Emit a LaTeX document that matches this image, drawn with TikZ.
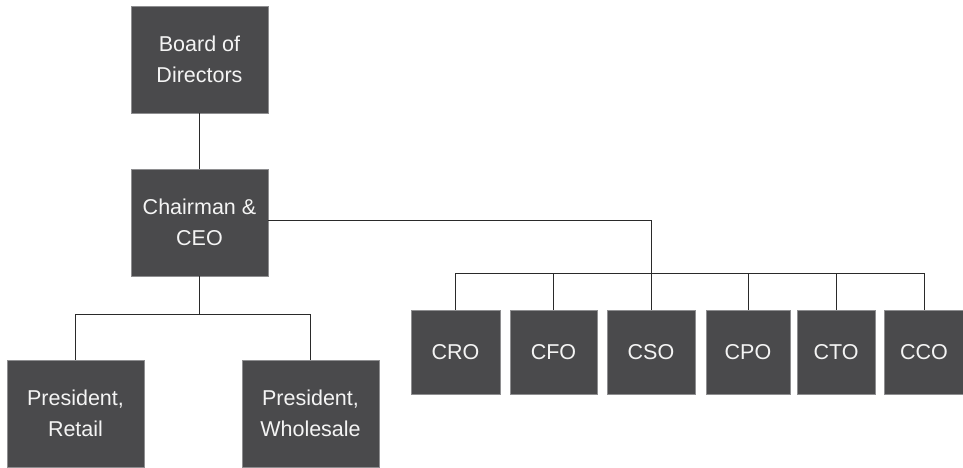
\documentclass[tikz,border=0pt]{standalone}
\usepackage{fontspec}
\setmainfont{Liberation Sans}
\usepackage{xcolor}
\usepackage{tikz}
\usetikzlibrary{calc}
\definecolor{boxfill}{HTML}{4A4A4C}
\definecolor{boxedge}{HTML}{8E8E90}
\definecolor{boxtext}{HTML}{F4F4F4}
\definecolor{wire}{HTML}{2A2A2A}
\tikzset{
  unit/.style={rectangle, fill=boxfill, draw=boxedge, line width=0.9pt, inner sep=0pt,
    align=center, text=boxtext, font=\fontsize{21.5}{31}\selectfont},
  big/.style={unit, minimum width=137pt, minimum height=107pt},
  small/.style={unit, minimum height=84pt},
  link/.style={draw=wire, line width=1pt},
}

\begin{document}
\begin{tikzpicture}[x=1pt,y=-1pt]
  \useasboundingbox (0,0) rectangle (963,467);
  % top of the tree
  \node[big] (board) at (199.5,59.5) {Board of\\Directors};
  \node[big] (chair) at (199.5,222.5) {Chairman \&\\CEO};
  \node[big] (retail) at (75.5,413.5) {President,\\Retail};
  \node[big] (whole) at (310.5,413.5) {President,\\Wholesale};
  % officers
  \foreach \N/\X/\W in {CRO/455.5/89,CFO/553.5/87,CSO/651/88,CPO/748/84,CTO/836/78,CCO/924/80}
    \node[small, minimum width=\W pt] (\N) at (\X,352) {\N};
  % connectors
  \draw[link] (board.south) -- (chair.north);
  \draw[link] (chair.south) -- ++(0,38) coordinate (split);
  \draw[link] (retail.north) |- (split) -| (whole.north);
  \draw[link] (chair.east |- 0,220) -| (CSO.north);
  \draw[link] (CRO.north) -- ++(0,-36) -| (CCO.north);
  \foreach \N in {CFO,CPO,CTO}
    \draw[link] (\N.north) -- ++(0,-36);
\end{tikzpicture}
\end{document}
